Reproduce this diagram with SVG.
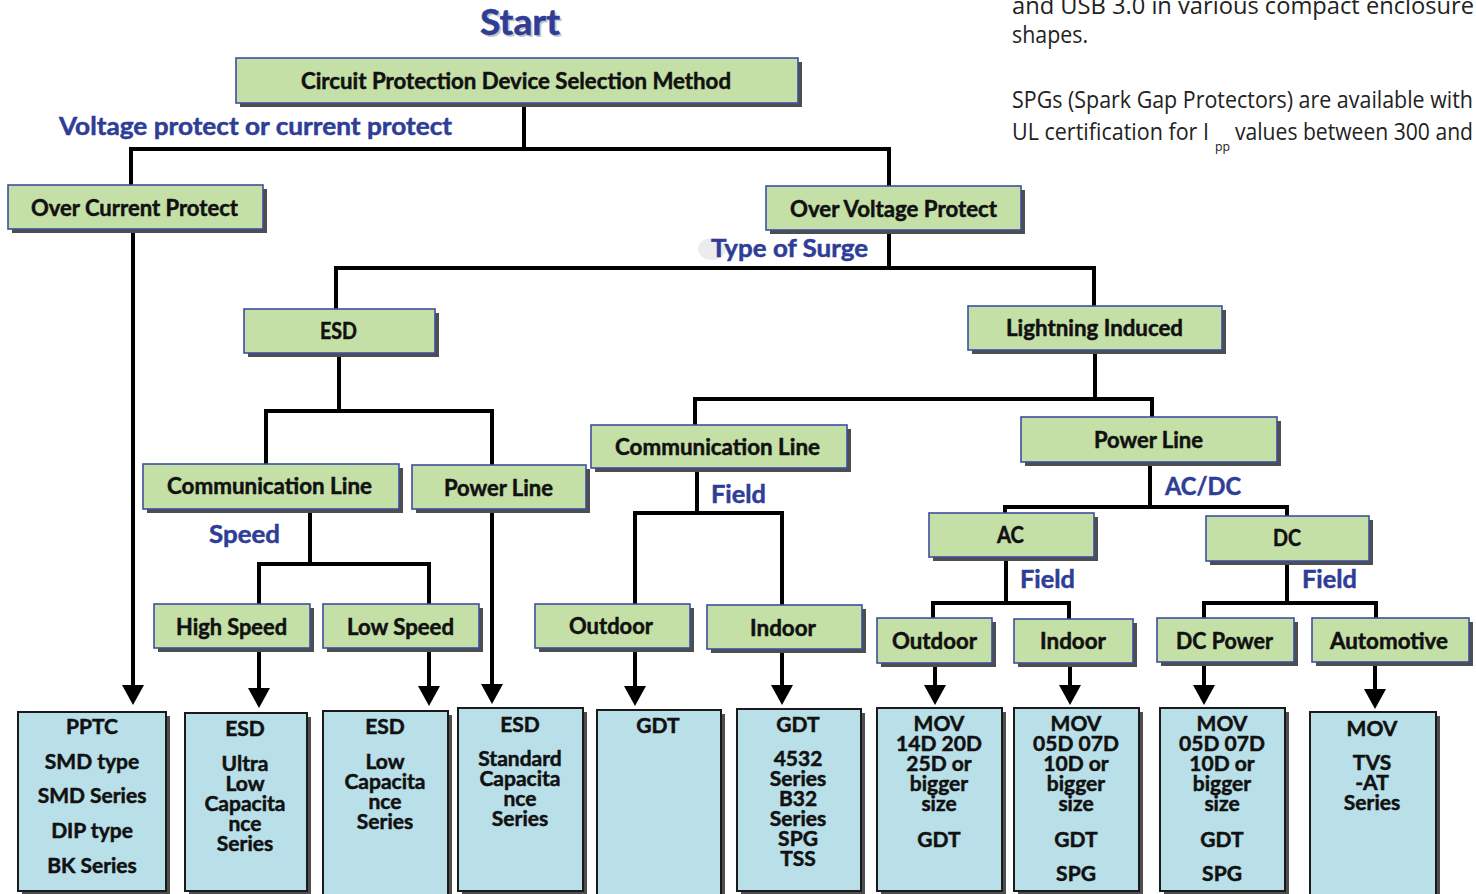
<svg xmlns="http://www.w3.org/2000/svg" width="1476" height="894" viewBox="0 0 1476 894">
<defs>
<style>
.g{fill:#c4e0a6;stroke:#3d4fa0;stroke-width:1.6}
.sh{fill:#4e4e4e}
.b{fill:#b9dfe8;stroke:#1a1a1a;stroke-width:2}
.t{font-family:Lato,"Liberation Sans",sans-serif;font-weight:700;font-size:22px;fill:#111;stroke:#111;stroke-width:0.5;text-anchor:middle}
.bt{font-family:Lato,"Liberation Sans",sans-serif;font-weight:700;font-size:21px;fill:#111;stroke:#111;stroke-width:0.5;text-anchor:middle}
.lb{font-family:Lato,"Liberation Sans",sans-serif;font-weight:700;font-size:25px;fill:#2e3d96;stroke:#2e3d96;stroke-width:0.5}
.pr{font-family:"Open Sans","Liberation Sans",sans-serif;font-size:23px;fill:#222}
.c{fill:none;stroke:#000;stroke-width:4;stroke-linejoin:miter}
</style>
<marker id="arr" viewBox="0 0 20 22" refX="14" refY="11" markerWidth="20" markerHeight="22" markerUnits="userSpaceOnUse" orient="auto">
<path d="M0,0 L20,11 L0,22 z" fill="#000"/>
</marker>
</defs>
<rect width="1476" height="894" fill="#fff"/>

<!-- side prose -->
<g id="prose">
<text class="pr" x="1012" y="14" textLength="462" lengthAdjust="spacingAndGlyphs">and USB 3.0 in various compact enclosure</text>
<text class="pr" x="1012" y="43" textLength="76" lengthAdjust="spacingAndGlyphs">shapes.</text>
<text class="pr" x="1012" y="108" textLength="461" lengthAdjust="spacingAndGlyphs">SPGs (Spark Gap Protectors) are available with</text>
<text class="pr" x="1012" y="140" textLength="197" lengthAdjust="spacingAndGlyphs">UL certification for I</text>
<text class="pr" x="1215" y="151" textLength="15" lengthAdjust="spacingAndGlyphs" style="font-size:13px">pp</text>
<text class="pr" x="1235" y="140" textLength="238" lengthAdjust="spacingAndGlyphs">values between 300 and</text>
</g>

<!-- title and labels -->
<g id="labels">
<text class="lb" x="482" y="37" style="font-size:36px;fill:#9a9a9a;stroke:none;opacity:0.55" textLength="80" lengthAdjust="spacingAndGlyphs">Start</text>
<text class="lb" x="480" y="35" style="font-size:36px" textLength="80" lengthAdjust="spacingAndGlyphs">Start</text>
<text class="lb" x="59" y="135" textLength="393" lengthAdjust="spacingAndGlyphs">Voltage protect or current protect</text>
<ellipse cx="712" cy="249" rx="14" ry="11" fill="#ececec"/>
<text class="lb" x="711" y="257" textLength="157" lengthAdjust="spacingAndGlyphs">Type of Surge</text>
<text class="lb" x="209" y="543" textLength="71" lengthAdjust="spacingAndGlyphs">Speed</text>
<text class="lb" x="711" y="503" textLength="55" lengthAdjust="spacingAndGlyphs">Field</text>
<text class="lb" x="1165" y="495" textLength="76" lengthAdjust="spacingAndGlyphs">AC/DC</text>
<text class="lb" x="1020" y="588" textLength="55" lengthAdjust="spacingAndGlyphs">Field</text>
<text class="lb" x="1302" y="588" textLength="55" lengthAdjust="spacingAndGlyphs">Field</text>
</g>

<!-- connectors -->
<g id="connectors">
<path class="c" d="M524,103 V149"/>
<path class="c" d="M131,185 V149 H889 V186"/>
<path class="c" d="M133,229 V699" marker-end="url(#arr)"/>
<path class="c" d="M889,230 V268"/>
<path class="c" d="M336,309 V268 H1094 V306"/>
<path class="c" d="M339,353 V411"/>
<path class="c" d="M266,464 V411 H492 V465"/>
<path class="c" d="M310,509 V564"/>
<path class="c" d="M259,604 V564 H429 V604"/>
<path class="c" d="M259,648 V702" marker-end="url(#arr)"/>
<path class="c" d="M429,648 V700" marker-end="url(#arr)"/>
<path class="c" d="M492,509 V698" marker-end="url(#arr)"/>
<path class="c" d="M1095,350 V399"/>
<path class="c" d="M695,425 V399 H1152 V417"/>
<path class="c" d="M697,468 V513"/>
<path class="c" d="M635,604 V513 H782 V605"/>
<path class="c" d="M635,648 V700" marker-end="url(#arr)"/>
<path class="c" d="M782,649 V699" marker-end="url(#arr)"/>
<path class="c" d="M1150,462 V507"/>
<path class="c" d="M1005,513 V507 H1287 V516"/>
<path class="c" d="M1006,557 V603"/>
<path class="c" d="M933,618 V603 H1069 V619"/>
<path class="c" d="M1287,561 V603"/>
<path class="c" d="M1204,618 V603 H1376 V618"/>
<path class="c" d="M935,663 V699" marker-end="url(#arr)"/>
<path class="c" d="M1070,663 V699" marker-end="url(#arr)"/>
<path class="c" d="M1204,662 V699" marker-end="url(#arr)"/>
<path class="c" d="M1375,662 V703" marker-end="url(#arr)"/>
</g>

<!-- green nodes -->
<g id="n-circuit"><rect class="sh" x="240" y="62" width="562" height="45"/><rect class="g" x="236" y="58" width="562" height="45"/><text class="t" x="516" y="89" textLength="430" lengthAdjust="spacingAndGlyphs">Circuit Protection Device Selection Method</text></g>
<g id="n-overcurrent"><rect class="sh" x="12" y="189" width="255" height="44"/><rect class="g" x="8" y="185" width="255" height="44"/><text class="t" x="134.5" y="216" textLength="207" lengthAdjust="spacingAndGlyphs">Over Current Protect</text></g>
<g id="n-overvoltage"><rect class="sh" x="770" y="190" width="255" height="44"/><rect class="g" x="766" y="186" width="255" height="44"/><text class="t" x="893.5" y="217" textLength="207" lengthAdjust="spacingAndGlyphs">Over Voltage Protect</text></g>
<g id="n-esd"><rect class="sh" x="248" y="313" width="191" height="44"/><rect class="g" x="244" y="309" width="191" height="44"/><text class="t" x="338.5" y="339" textLength="37" lengthAdjust="spacingAndGlyphs">ESD</text></g>
<g id="n-lightning"><rect class="sh" x="972" y="310" width="254" height="44"/><rect class="g" x="968" y="306" width="254" height="44"/><text class="t" x="1094.5" y="336" textLength="177" lengthAdjust="spacingAndGlyphs">Lightning Induced</text></g>
<g id="n-comm1"><rect class="sh" x="147" y="468" width="256" height="45"/><rect class="g" x="143" y="464" width="256" height="45"/><text class="t" x="269.5" y="494" textLength="205" lengthAdjust="spacingAndGlyphs">Communication Line</text></g>
<g id="n-power1"><rect class="sh" x="416" y="469" width="174" height="44"/><rect class="g" x="412" y="465" width="174" height="44"/><text class="t" x="498.5" y="496" textLength="109" lengthAdjust="spacingAndGlyphs">Power Line</text></g>
<g id="n-high"><rect class="sh" x="158" y="608" width="156" height="44"/><rect class="g" x="154" y="604" width="156" height="44"/><text class="t" x="231.5" y="635" textLength="111" lengthAdjust="spacingAndGlyphs">High Speed</text></g>
<g id="n-low"><rect class="sh" x="327" y="608" width="156" height="44"/><rect class="g" x="323" y="604" width="156" height="44"/><text class="t" x="400.5" y="635" textLength="107" lengthAdjust="spacingAndGlyphs">Low Speed</text></g>
<g id="n-comm2"><rect class="sh" x="595" y="429" width="256" height="43"/><rect class="g" x="591" y="425" width="256" height="43"/><text class="t" x="717.5" y="455" textLength="205" lengthAdjust="spacingAndGlyphs">Communication Line</text></g>
<g id="n-outdoor1"><rect class="sh" x="539" y="608" width="155" height="44"/><rect class="g" x="535" y="604" width="155" height="44"/><text class="t" x="611" y="634" textLength="84" lengthAdjust="spacingAndGlyphs">Outdoor</text></g>
<g id="n-indoor1"><rect class="sh" x="711" y="609" width="155" height="44"/><rect class="g" x="707" y="605" width="155" height="44"/><text class="t" x="783" y="636" textLength="66" lengthAdjust="spacingAndGlyphs">Indoor</text></g>
<g id="n-power2"><rect class="sh" x="1025" y="421" width="256" height="45"/><rect class="g" x="1021" y="417" width="256" height="45"/><text class="t" x="1148.5" y="448" textLength="109" lengthAdjust="spacingAndGlyphs">Power Line</text></g>
<g id="n-ac"><rect class="sh" x="933" y="517" width="165" height="44"/><rect class="g" x="929" y="513" width="165" height="44"/><text class="t" x="1010.5" y="543" textLength="27" lengthAdjust="spacingAndGlyphs">AC</text></g>
<g id="n-dc"><rect class="sh" x="1210" y="520" width="163" height="45"/><rect class="g" x="1206" y="516" width="163" height="45"/><text class="t" x="1287" y="546" textLength="28" lengthAdjust="spacingAndGlyphs">DC</text></g>
<g id="n-outdoor2"><rect class="sh" x="881" y="622" width="115" height="45"/><rect class="g" x="877" y="618" width="115" height="45"/><text class="t" x="934.5" y="649" textLength="85" lengthAdjust="spacingAndGlyphs">Outdoor</text></g>
<g id="n-indoor2"><rect class="sh" x="1018" y="623" width="119" height="44"/><rect class="g" x="1014" y="619" width="119" height="44"/><text class="t" x="1073" y="649" textLength="66" lengthAdjust="spacingAndGlyphs">Indoor</text></g>
<g id="n-dcpower"><rect class="sh" x="1161" y="622" width="137" height="44"/><rect class="g" x="1157" y="618" width="137" height="44"/><text class="t" x="1224.5" y="649" textLength="97" lengthAdjust="spacingAndGlyphs">DC Power</text></g>
<g id="n-automotive"><rect class="sh" x="1316" y="622" width="157" height="44"/><rect class="g" x="1312" y="618" width="157" height="44"/><text class="t" x="1389" y="649" textLength="118" lengthAdjust="spacingAndGlyphs">Automotive</text></g>

<!-- result nodes -->
<g id="r-pptc"><rect class="sh" x="22" y="716" width="148" height="180"/><rect class="b" x="18" y="712" width="148" height="179"/>
<text class="bt" x="92" y="734">PPTC</text><text class="bt" x="92" y="769">SMD type</text><text class="bt" x="92" y="803">SMD Series</text><text class="bt" x="92" y="838">DIP type</text><text class="bt" x="92" y="873">BK Series</text></g>
<g id="r-esd-ultra"><rect class="sh" x="189" y="717" width="122" height="180"/><rect class="b" x="185" y="713" width="122" height="178"/>
<text class="bt" x="245" y="736">ESD</text><text class="bt" x="245" y="771">Ultra</text><text class="bt" x="245" y="791">Low</text><text class="bt" x="245" y="811">Capacita</text><text class="bt" x="245" y="831">nce</text><text class="bt" x="245" y="851">Series</text></g>
<g id="r-esd-low"><rect class="sh" x="327" y="715" width="125" height="190"/><rect class="b" x="323" y="711" width="125" height="195"/>
<text class="bt" x="385" y="734">ESD</text><text class="bt" x="385" y="769">Low</text><text class="bt" x="385" y="789">Capacita</text><text class="bt" x="385" y="809">nce</text><text class="bt" x="385" y="829">Series</text></g>
<g id="r-esd-std"><rect class="sh" x="462" y="712" width="125" height="184"/><rect class="b" x="458" y="708" width="125" height="183"/>
<text class="bt" x="520" y="732">ESD</text><text class="bt" x="520" y="766">Standard</text><text class="bt" x="520" y="786">Capacita</text><text class="bt" x="520" y="806">nce</text><text class="bt" x="520" y="826">Series</text></g>
<g id="r-gdt"><rect class="sh" x="601" y="714" width="124" height="190"/><rect class="b" x="597" y="710" width="124" height="195"/>
<text class="bt" x="658" y="733">GDT</text></g>
<g id="r-gdt-4532"><rect class="sh" x="741" y="713" width="124" height="184"/><rect class="b" x="737" y="709" width="124" height="182"/>
<text class="bt" x="798" y="732">GDT</text><text class="bt" x="798" y="766">4532</text><text class="bt" x="798" y="786">Series</text><text class="bt" x="798" y="806">B32</text><text class="bt" x="798" y="826">Series</text><text class="bt" x="798" y="846">SPG</text><text class="bt" x="798" y="866">TSS</text></g>
<g id="r-mov-14d"><rect class="sh" x="881" y="712" width="125" height="184"/><rect class="b" x="877" y="708" width="125" height="183"/>
<text class="bt" x="939" y="731">MOV</text><text class="bt" x="939" y="751">14D 20D</text><text class="bt" x="939" y="771">25D or</text><text class="bt" x="939" y="791">bigger</text><text class="bt" x="939" y="811">size</text><text class="bt" x="939" y="847">GDT</text></g>
<g id="r-mov-05d-ac"><rect class="sh" x="1018" y="712" width="125" height="184"/><rect class="b" x="1014" y="708" width="125" height="183"/>
<text class="bt" x="1076" y="731">MOV</text><text class="bt" x="1076" y="751">05D 07D</text><text class="bt" x="1076" y="771">10D or</text><text class="bt" x="1076" y="791">bigger</text><text class="bt" x="1076" y="811">size</text><text class="bt" x="1076" y="847">GDT</text><text class="bt" x="1076" y="881">SPG</text></g>
<g id="r-mov-05d-dc"><rect class="sh" x="1164" y="712" width="125" height="184"/><rect class="b" x="1160" y="708" width="125" height="183"/>
<text class="bt" x="1222" y="731">MOV</text><text class="bt" x="1222" y="751">05D 07D</text><text class="bt" x="1222" y="771">10D or</text><text class="bt" x="1222" y="791">bigger</text><text class="bt" x="1222" y="811">size</text><text class="bt" x="1222" y="847">GDT</text><text class="bt" x="1222" y="881">SPG</text></g>
<g id="r-mov-tvs"><rect class="sh" x="1314" y="716" width="126" height="190"/><rect class="b" x="1310" y="712" width="126" height="195"/>
<text class="bt" x="1372" y="736">MOV</text><text class="bt" x="1372" y="770">TVS</text><text class="bt" x="1372" y="790">-AT</text><text class="bt" x="1372" y="810">Series</text></g>
</svg>
